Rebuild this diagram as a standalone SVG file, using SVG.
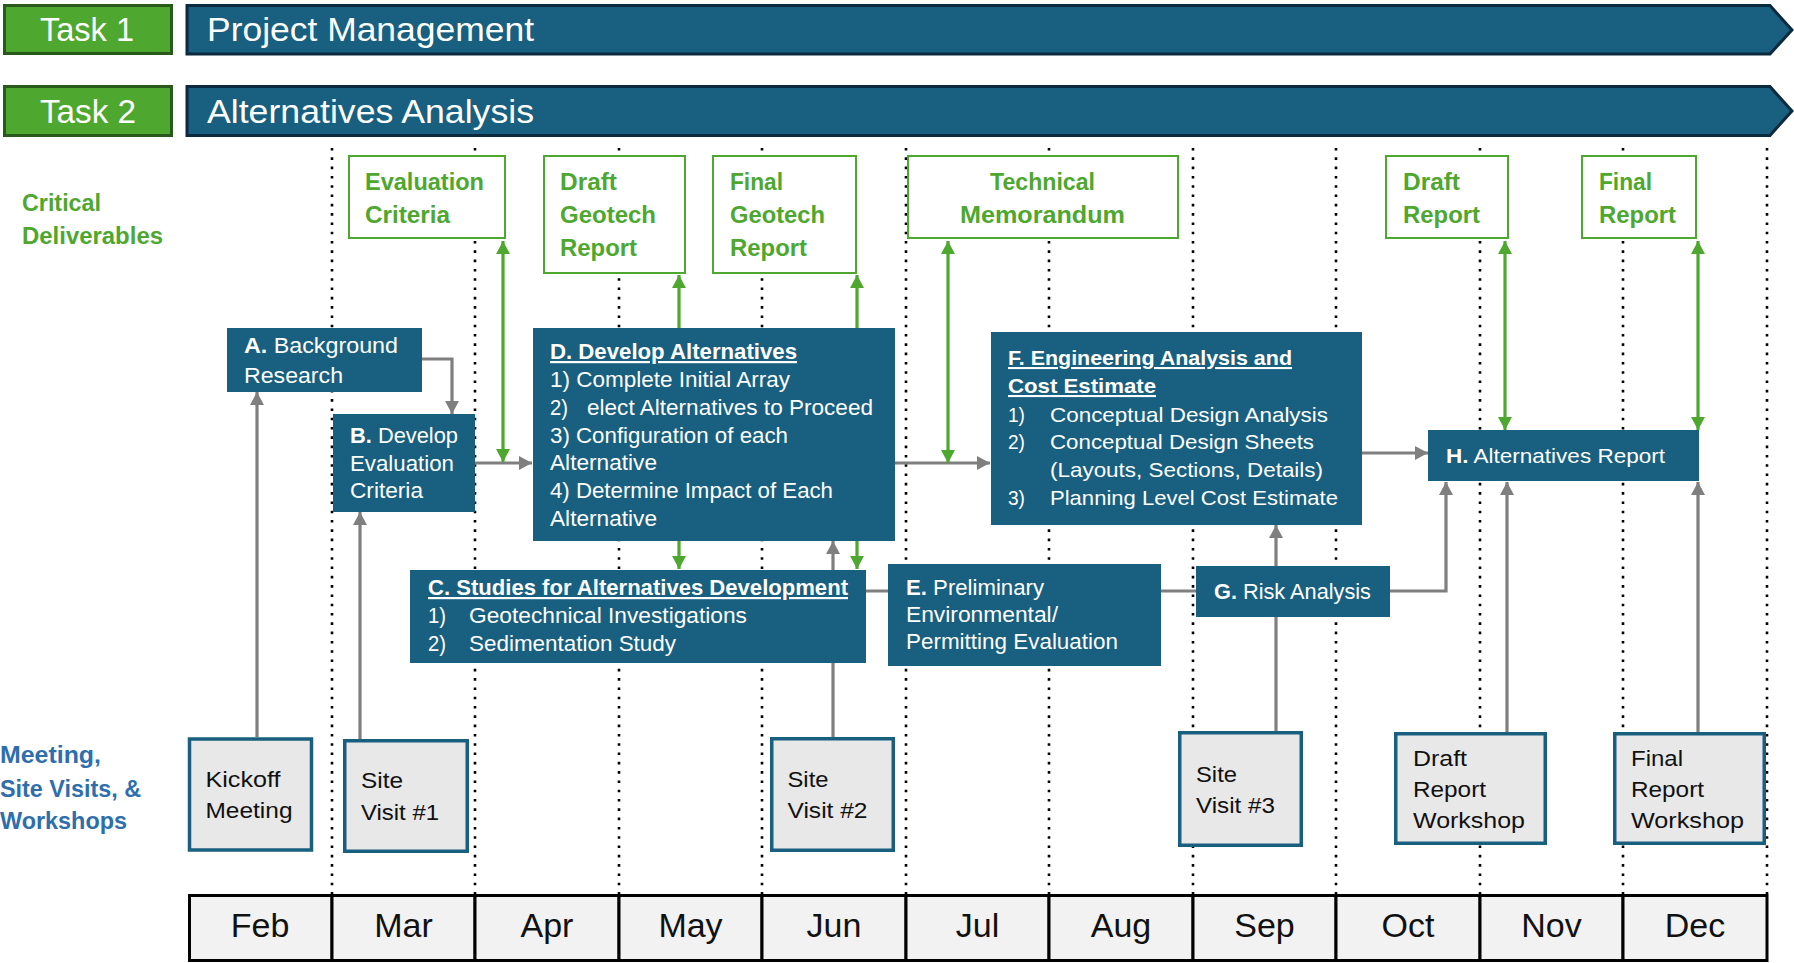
<svg xmlns="http://www.w3.org/2000/svg" width="1794" height="963" viewBox="0 0 1794 963">
<style>
.bg{fill:#ffffff}
.dot{stroke:#000;stroke-width:2.6;stroke-dasharray:2.6 6.7;fill:none}
.taskg{fill:#4ea72e;stroke:#2a5a1b;stroke-width:3}
.taskb{fill:#185f80;stroke:#0c2a3e;stroke-width:3}
.tt{fill:#fff;font-family:"Liberation Sans",Arial,sans-serif;font-size:33px}
.lbl{font-family:"Liberation Sans",Arial,sans-serif;font-weight:bold;font-size:23px}
.crit{fill:#4ea72e}
.meet{fill:#2e6eac}
.deliv{fill:#fff;stroke:#4ea72e;stroke-width:2}
.dt{fill:#4ea72e;font-family:"Liberation Sans",Arial,sans-serif;font-weight:bold;font-size:24px}
.box{fill:#185f80}
.wn{fill:#fff;font-family:"Liberation Sans Narrow","Liberation Sans",Arial,sans-serif;font-size:22px}
.wr{fill:#fff;font-family:"Liberation Sans",Arial,sans-serif;font-size:21px}
.b{font-weight:bold}
.u{text-decoration:underline}
.mbox{fill:#e8e8e8;stroke:#185f80;stroke-width:3.5}
.kn{fill:#111;font-family:"Liberation Sans Narrow","Liberation Sans",Arial,sans-serif;font-size:22px}
.kr{fill:#111;font-family:"Liberation Sans",Arial,sans-serif;font-size:22px}
.month{fill:#f2f2f2;stroke:#000;stroke-width:3}
.mt{fill:#111;font-family:"Liberation Sans",Arial,sans-serif;font-size:34px;text-anchor:middle}
.gl{stroke:#7f7f7f;stroke-width:3.2;fill:none}
.gr{stroke:#4ea72e;stroke-width:3.2;fill:none}
</style>
<defs>
<marker id="ag" viewBox="0 0 13 14" refX="13" refY="7" markerWidth="13" markerHeight="14" markerUnits="userSpaceOnUse" orient="auto-start-reverse"><path d="M0,0 L13,7 L0,14 Z" fill="#7f7f7f"/></marker>
<marker id="an" viewBox="0 0 13 14" refX="13" refY="7" markerWidth="13" markerHeight="14" markerUnits="userSpaceOnUse" orient="auto-start-reverse"><path d="M0,0 L13,7 L0,14 Z" fill="#4ea72e"/></marker>
</defs>
<rect class="bg" x="0" y="0" width="1794" height="963"/>

<g id="gridlines">
<line class="dot" x1="332" y1="148" x2="332" y2="894"/>
<line class="dot" x1="475" y1="148" x2="475" y2="894"/>
<line class="dot" x1="619" y1="148" x2="619" y2="894"/>
<line class="dot" x1="762" y1="148" x2="762" y2="894"/>
<line class="dot" x1="906" y1="148" x2="906" y2="894"/>
<line class="dot" x1="1049" y1="148" x2="1049" y2="894"/>
<line class="dot" x1="1193" y1="148" x2="1193" y2="894"/>
<line class="dot" x1="1336" y1="148" x2="1336" y2="894"/>
<line class="dot" x1="1480" y1="148" x2="1480" y2="894"/>
<line class="dot" x1="1623" y1="148" x2="1623" y2="894"/>
<line class="dot" x1="1767" y1="148" x2="1767" y2="894"/>
</g>

<g id="task1">
<rect class="taskg" x="4.5" y="5.5" width="167" height="48"/>
<text class="tt" x="40" y="41" textLength="94" lengthAdjust="spacingAndGlyphs">Task 1</text>
<polygon class="taskb" points="187,5.5 1770,5.5 1792,30 1770,54 187,54"/>
<text class="tt" x="207" y="41" textLength="327" lengthAdjust="spacingAndGlyphs">Project Management</text>
</g>
<g id="task2">
<rect class="taskg" x="4.5" y="86.5" width="167" height="49"/>
<text class="tt" x="40" y="123" textLength="96" lengthAdjust="spacingAndGlyphs">Task 2</text>
<polygon class="taskb" points="187,86.5 1770,86.5 1792,111 1770,135.5 187,135.5"/>
<text class="tt" x="207" y="123" textLength="327" lengthAdjust="spacingAndGlyphs">Alternatives Analysis</text>
</g>

<g id="label-critical">
<text class="lbl crit" x="22" y="211" textLength="79" lengthAdjust="spacingAndGlyphs">Critical</text>
<text class="lbl crit" x="22" y="244" textLength="141" lengthAdjust="spacingAndGlyphs">Deliverables</text>
</g>
<g id="label-meetings">
<text class="lbl meet" x="0" y="763" textLength="101" lengthAdjust="spacingAndGlyphs">Meeting,</text>
<text class="lbl meet" x="0" y="797" textLength="141" lengthAdjust="spacingAndGlyphs">Site Visits, &amp;</text>
<text class="lbl meet" x="0" y="829" textLength="127" lengthAdjust="spacingAndGlyphs">Workshops</text>
</g>

<g id="connectors">
<path class="gl" d="M257,737 V392" marker-end="url(#ag)"/>
<path class="gl" d="M360,739 V512" marker-end="url(#ag)"/>
<path class="gl" d="M422,359 H452 V414" marker-end="url(#ag)"/>
<path class="gl" d="M475,463 H532" marker-end="url(#ag)"/>
<path class="gr" d="M503,241 V462" marker-start="url(#an)" marker-end="url(#an)"/>
<path class="gr" d="M679,275 V569" marker-start="url(#an)" marker-end="url(#an)"/>
<path class="gr" d="M857,275 V569" marker-start="url(#an)" marker-end="url(#an)"/>
<path class="gl" d="M833,737 V541" marker-end="url(#ag)"/>
<path class="gl" d="M895,463 H990" marker-end="url(#ag)"/>
<path class="gr" d="M948,241 V463" marker-start="url(#an)" marker-end="url(#an)"/>
<path class="gl" d="M866,591 H1196"/>
<path class="gl" d="M1276,731 V525" marker-end="url(#ag)"/>
<path class="gl" d="M1390,591 H1446 V482" marker-end="url(#ag)"/>
<path class="gl" d="M1362,453 H1428" marker-end="url(#ag)"/>
<path class="gl" d="M1507,732 V482" marker-end="url(#ag)"/>
<path class="gl" d="M1698,732 V482" marker-end="url(#ag)"/>
<path class="gr" d="M1505,241 V430" marker-start="url(#an)" marker-end="url(#an)"/>
<path class="gr" d="M1698,241 V430" marker-start="url(#an)" marker-end="url(#an)"/>
</g>

<g id="deliv-eval">
<rect class="deliv" x="349" y="156" width="156" height="82"/>
<text class="dt" x="365" y="190" textLength="119" lengthAdjust="spacingAndGlyphs">Evaluation</text>
<text class="dt" x="365" y="223" textLength="85" lengthAdjust="spacingAndGlyphs">Criteria</text>
</g>
<g id="deliv-draft-geotech">
<rect class="deliv" x="544" y="156" width="141" height="117"/>
<text class="dt" x="560" y="190" textLength="57" lengthAdjust="spacingAndGlyphs">Draft</text>
<text class="dt" x="560" y="223" textLength="96" lengthAdjust="spacingAndGlyphs">Geotech</text>
<text class="dt" x="560" y="256" textLength="77" lengthAdjust="spacingAndGlyphs">Report</text>
</g>
<g id="deliv-final-geotech">
<rect class="deliv" x="713" y="156" width="143" height="117"/>
<text class="dt" x="730" y="190" textLength="53" lengthAdjust="spacingAndGlyphs">Final</text>
<text class="dt" x="730" y="223" textLength="95" lengthAdjust="spacingAndGlyphs">Geotech</text>
<text class="dt" x="730" y="256" textLength="77" lengthAdjust="spacingAndGlyphs">Report</text>
</g>
<g id="deliv-tech-memo">
<rect class="deliv" x="908" y="156" width="270" height="82"/>
<text class="dt" x="990" y="190" textLength="105" lengthAdjust="spacingAndGlyphs">Technical</text>
<text class="dt" x="960" y="223" textLength="165" lengthAdjust="spacingAndGlyphs">Memorandum</text>
</g>
<g id="deliv-draft-report">
<rect class="deliv" x="1386" y="156" width="122" height="82"/>
<text class="dt" x="1403" y="190" textLength="57" lengthAdjust="spacingAndGlyphs">Draft</text>
<text class="dt" x="1403" y="223" textLength="77" lengthAdjust="spacingAndGlyphs">Report</text>
</g>
<g id="deliv-final-report">
<rect class="deliv" x="1582" y="156" width="114" height="82"/>
<text class="dt" x="1599" y="190" textLength="53" lengthAdjust="spacingAndGlyphs">Final</text>
<text class="dt" x="1599" y="223" textLength="77" lengthAdjust="spacingAndGlyphs">Report</text>
</g>

<g id="node-a">
<rect class="box" x="227" y="328" width="195" height="64"/>
<text class="wn" x="244" y="353" textLength="154" lengthAdjust="spacingAndGlyphs"><tspan class="b">A.</tspan> Background</text>
<text class="wn" x="244" y="383" textLength="99" lengthAdjust="spacingAndGlyphs">Research</text>
</g>
<g id="node-b">
<rect class="box" x="333" y="414" width="142" height="98"/>
<text class="wn" x="350" y="443" textLength="108" lengthAdjust="spacingAndGlyphs"><tspan class="b">B.</tspan> Develop</text>
<text class="wn" x="350" y="471" textLength="104" lengthAdjust="spacingAndGlyphs">Evaluation</text>
<text class="wn" x="350" y="498" textLength="73" lengthAdjust="spacingAndGlyphs">Criteria</text>
</g>
<g id="node-d">
<rect class="box" x="533" y="328" width="362" height="213"/>
<text class="wn b u" x="550" y="359" textLength="247" lengthAdjust="spacingAndGlyphs">D. Develop Alternatives</text>
<text class="wn" x="550" y="387" textLength="240" lengthAdjust="spacingAndGlyphs">1) Complete Initial Array</text>
<text class="wn" x="550" y="415" textLength="18" lengthAdjust="spacingAndGlyphs">2)</text>
<text class="wn" x="587" y="415" textLength="286" lengthAdjust="spacingAndGlyphs">elect Alternatives to Proceed</text>
<text class="wn" x="550" y="443" textLength="238" lengthAdjust="spacingAndGlyphs">3) Configuration of each</text>
<text class="wn" x="550" y="470" textLength="107" lengthAdjust="spacingAndGlyphs">Alternative</text>
<text class="wn" x="550" y="498" textLength="283" lengthAdjust="spacingAndGlyphs">4) Determine Impact of Each</text>
<text class="wn" x="550" y="526" textLength="107" lengthAdjust="spacingAndGlyphs">Alternative</text>
</g>
<g id="node-c">
<rect class="box" x="410" y="570" width="456" height="93"/>
<text class="wn b u" x="428" y="595" textLength="420" lengthAdjust="spacingAndGlyphs">C. Studies for Alternatives Development</text>
<text class="wn" x="428" y="623" textLength="18" lengthAdjust="spacingAndGlyphs">1)</text>
<text class="wn" x="469" y="623" textLength="278" lengthAdjust="spacingAndGlyphs">Geotechnical Investigations</text>
<text class="wn" x="428" y="651" textLength="18" lengthAdjust="spacingAndGlyphs">2)</text>
<text class="wn" x="469" y="651" textLength="207" lengthAdjust="spacingAndGlyphs">Sedimentation Study</text>
</g>
<g id="node-e">
<rect class="box" x="888" y="564" width="273" height="102"/>
<text class="wn" x="906" y="595" textLength="138" lengthAdjust="spacingAndGlyphs"><tspan class="b">E.</tspan> Preliminary</text>
<text class="wn" x="906" y="622" textLength="152" lengthAdjust="spacingAndGlyphs">Environmental/</text>
<text class="wn" x="906" y="649" textLength="212" lengthAdjust="spacingAndGlyphs">Permitting Evaluation</text>
</g>
<g id="node-f">
<rect class="box" x="991" y="332" width="371" height="193"/>
<text class="wr b u" x="1008" y="365" textLength="284" lengthAdjust="spacingAndGlyphs">F. Engineering Analysis and</text>
<text class="wr b u" x="1008" y="393" textLength="148" lengthAdjust="spacingAndGlyphs">Cost Estimate</text>
<text class="wr" x="1008" y="422" textLength="17" lengthAdjust="spacingAndGlyphs">1)</text>
<text class="wr" x="1050" y="422" textLength="278" lengthAdjust="spacingAndGlyphs">Conceptual Design Analysis</text>
<text class="wr" x="1008" y="449" textLength="17" lengthAdjust="spacingAndGlyphs">2)</text>
<text class="wr" x="1050" y="449" textLength="264" lengthAdjust="spacingAndGlyphs">Conceptual Design Sheets</text>
<text class="wr" x="1050" y="477" textLength="273" lengthAdjust="spacingAndGlyphs">(Layouts, Sections, Details)</text>
<text class="wr" x="1008" y="505" textLength="17" lengthAdjust="spacingAndGlyphs">3)</text>
<text class="wr" x="1050" y="505" textLength="288" lengthAdjust="spacingAndGlyphs">Planning Level Cost Estimate</text>
</g>
<g id="node-g">
<rect class="box" x="1196" y="566" width="194" height="51"/>
<text class="wn" x="1214" y="599" textLength="157" lengthAdjust="spacingAndGlyphs"><tspan class="b">G.</tspan> Risk Analysis</text>
</g>
<g id="node-h">
<rect class="box" x="1428" y="430" width="271" height="51"/>
<text class="wr" x="1446" y="463" textLength="219" lengthAdjust="spacingAndGlyphs"><tspan class="b">H.</tspan> Alternatives Report</text>
</g>

<g id="meet-kickoff">
<rect class="mbox" x="189.5" y="739" width="122" height="111"/>
<text class="kn" x="205.5" y="787" textLength="75" lengthAdjust="spacingAndGlyphs">Kickoff</text>
<text class="kn" x="205.5" y="818" textLength="87" lengthAdjust="spacingAndGlyphs">Meeting</text>
</g>
<g id="meet-site1">
<rect class="mbox" x="344.75" y="740.75" width="122.5" height="110.5"/>
<text class="kn" x="361" y="788" textLength="42" lengthAdjust="spacingAndGlyphs">Site</text>
<text class="kn" x="361" y="820" textLength="78" lengthAdjust="spacingAndGlyphs">Visit #1</text>
</g>
<g id="meet-site2">
<rect class="mbox" x="771.75" y="738.75" width="121.5" height="111.5"/>
<text class="kn" x="787.5" y="787" textLength="41" lengthAdjust="spacingAndGlyphs">Site</text>
<text class="kn" x="787.5" y="818" textLength="80" lengthAdjust="spacingAndGlyphs">Visit #2</text>
</g>
<g id="meet-site3">
<rect class="mbox" x="1179.75" y="732.75" width="121.5" height="112.5"/>
<text class="kn" x="1196" y="782" textLength="41" lengthAdjust="spacingAndGlyphs">Site</text>
<text class="kn" x="1196" y="813" textLength="79" lengthAdjust="spacingAndGlyphs">Visit #3</text>
</g>
<g id="meet-draft-workshop">
<rect class="mbox" x="1395.75" y="733.75" width="149.5" height="109.5"/>
<text class="kr" x="1413" y="766" textLength="54" lengthAdjust="spacingAndGlyphs">Draft</text>
<text class="kr" x="1413" y="797" textLength="73" lengthAdjust="spacingAndGlyphs">Report</text>
<text class="kr" x="1413" y="828" textLength="112" lengthAdjust="spacingAndGlyphs">Workshop</text>
</g>
<g id="meet-final-workshop">
<rect class="mbox" x="1614.75" y="733.75" width="149.5" height="109.5"/>
<text class="kr" x="1631" y="766" textLength="52" lengthAdjust="spacingAndGlyphs">Final</text>
<text class="kr" x="1631" y="797" textLength="73" lengthAdjust="spacingAndGlyphs">Report</text>
<text class="kr" x="1631" y="828" textLength="113" lengthAdjust="spacingAndGlyphs">Workshop</text>
</g>

<g id="months">
<rect class="month" x="189.5" y="895.5" width="142.5" height="65"/>
<rect class="month" x="332" y="895.5" width="143" height="65"/>
<rect class="month" x="475" y="895.5" width="144" height="65"/>
<rect class="month" x="619" y="895.5" width="143" height="65"/>
<rect class="month" x="762" y="895.5" width="144" height="65"/>
<rect class="month" x="906" y="895.5" width="143" height="65"/>
<rect class="month" x="1049" y="895.5" width="144" height="65"/>
<rect class="month" x="1193" y="895.5" width="143" height="65"/>
<rect class="month" x="1336" y="895.5" width="144" height="65"/>
<rect class="month" x="1480" y="895.5" width="143" height="65"/>
<rect class="month" x="1623" y="895.5" width="144" height="65"/>
<text class="mt" x="260" y="937">Feb</text>
<text class="mt" x="403.5" y="937">Mar</text>
<text class="mt" x="547" y="937">Apr</text>
<text class="mt" x="690.5" y="937">May</text>
<text class="mt" x="834" y="937">Jun</text>
<text class="mt" x="977.5" y="937">Jul</text>
<text class="mt" x="1121" y="937">Aug</text>
<text class="mt" x="1264.5" y="937">Sep</text>
<text class="mt" x="1408" y="937">Oct</text>
<text class="mt" x="1551.5" y="937">Nov</text>
<text class="mt" x="1695" y="937">Dec</text>
</g>
</svg>
